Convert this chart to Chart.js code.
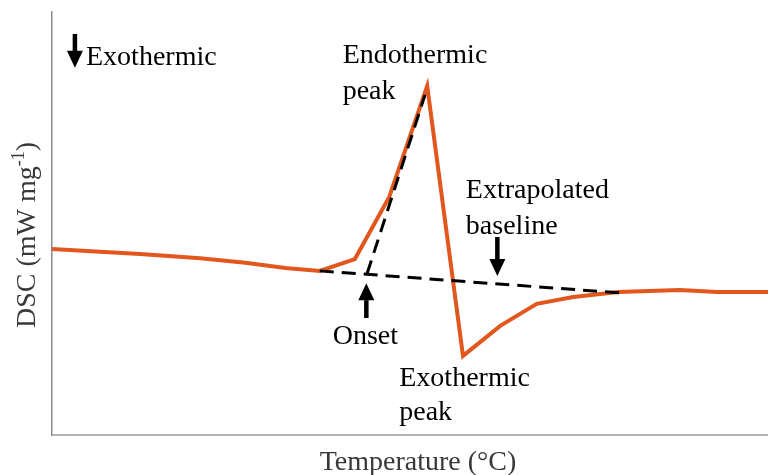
<!DOCTYPE html>
<html>
<head>
<meta charset="utf-8">
<script src="https://cdn.jsdelivr.net/npm/chart.js@4/dist/chart.umd.min.js"></script>
<style>
  html, body { margin: 0; padding: 0; background: #ffffff; }
  #wrap { width: 768px; height: 475px; }
</style>
</head>
<body>
<div id="wrap"><canvas id="dsc" width="768" height="475"></canvas></div>
<script>
// DSC trace (arbitrary units: temperature 0-100, heat flow 0-100)
const tempPts = [0, 6.7, 12.3, 20.7, 27.0, 32.6, 37.4, 42.3, 47.1, 52.4, 57.4, 62.6, 67.7, 72.8, 79.1, 87.7, 92.9, 100];
const dscVals = [44.0, 43.3, 42.8, 41.8, 40.7, 39.5, 38.8, 41.6, 56.3, 82.5, 18.7, 25.8, 31.0, 32.6, 33.8, 34.3, 33.8, 33.8];

// Extrapolated baseline and onset tangent
const baselineX = [37.4, 79.3];
const baselineY = [38.8, 33.6];
const tangentX = [44.0, 52.1];
const tangentY = [38.1, 80.4];

// Text annotations (left edge / baseline in data units)
const labelText = ['Exothermic', 'Endothermic', 'peak', 'Extrapolated', 'baseline', 'Onset', 'Exothermic', 'peak'];
const labelX = [4.75, 40.6, 40.6, 57.8, 57.8, 39.2, 48.5, 48.5];
const labelY = [87.5, 88.0, 79.5, 56.0, 47.6, 21.5, 11.5, 3.6];

// Arrows: x, tail y, tip y
const arrowX = [3.2, 43.9, 62.2];
const arrowFrom = [94.8, 27.9, 46.8];
const arrowTo = [86.8, 35.9, 37.6];

const xTitle = 'Temperature (°C)';
const yTitleMain = 'DSC (mW mg';
const yTitleSup = '-1';
const yTitleEnd = ')';

const toXY = (xs, ys) => xs.map((x, i) => ({ x: x, y: ys[i] }));
const SERIF = '"Liberation Serif", "Times New Roman", serif';

const annotations = {
  id: 'annotations',
  afterDatasetsDraw(chart) {
    const { ctx, scales: { x, y }, chartArea } = chart;
    ctx.save();

    // arrows
    ctx.fillStyle = '#000000';
    arrowX.forEach((ax, i) => {
      const px = x.getPixelForValue(ax);
      const y0 = y.getPixelForValue(arrowFrom[i]);
      const y1 = y.getPixelForValue(arrowTo[i]);
      const dir = Math.sign(y1 - y0);
      const headLen = 17, headHalf = 8, shaft = 4.5;
      const yBase = y1 - dir * headLen;
      ctx.fillRect(px - shaft / 2, Math.min(y0, yBase), shaft, Math.abs(yBase - y0) + 1);
      ctx.beginPath();
      ctx.moveTo(px - headHalf, yBase);
      ctx.lineTo(px + headHalf, yBase);
      ctx.lineTo(px, y1);
      ctx.closePath();
      ctx.fill();
    });

    // annotation text
    ctx.font = '28px ' + SERIF;
    ctx.textAlign = 'left';
    ctx.textBaseline = 'alphabetic';
    labelText.forEach((t, i) => {
      ctx.fillText(t, x.getPixelForValue(labelX[i]), y.getPixelForValue(labelY[i]));
    });

    // axis titles
    ctx.fillStyle = '#383838';
    ctx.textAlign = 'center';
    ctx.fillText(xTitle, (chartArea.left + chartArea.right) / 2 + 8, 470);

    ctx.translate(35, 235);
    ctx.rotate(-Math.PI / 2);
    ctx.textAlign = 'left';
    ctx.font = '28px ' + SERIF;
    const w1 = ctx.measureText(yTitleMain).width;
    ctx.font = '18px ' + SERIF;
    const w2 = ctx.measureText(yTitleSup).width;
    ctx.font = '28px ' + SERIF;
    const w3 = ctx.measureText(yTitleEnd).width;
    let cx = -(w1 + w2 + w3) / 2;
    ctx.fillText(yTitleMain, cx, 0);
    cx += w1;
    ctx.font = '18px ' + SERIF;
    ctx.fillText(yTitleSup, cx, -11);
    cx += w2;
    ctx.font = '28px ' + SERIF;
    ctx.fillText(yTitleEnd, cx, 0);

    ctx.restore();
  }
};

new Chart(document.getElementById('dsc'), {
  type: 'line',
  data: {
    datasets: [
      {
        data: toXY(baselineX, baselineY),
        borderColor: '#000000',
        borderWidth: 3,
        borderDash: [14, 8],
        borderCapStyle: 'butt',
        pointRadius: 0,
        order: 0
      },
      {
        data: toXY(tangentX, tangentY),
        borderColor: '#000000',
        borderWidth: 3,
        borderDash: [14, 8],
        borderCapStyle: 'butt',
        pointRadius: 0,
        order: 0
      },
      {
        data: toXY(tempPts, dscVals),
        borderColor: '#E1571D',
        borderWidth: 4,
        borderJoinStyle: 'miter',
        pointRadius: 0,
        tension: 0,
        order: 1
      }
    ]
  },
  options: {
    responsive: false,
    devicePixelRatio: 1,
    animation: false,
    clip: false,
    layout: { padding: { left: 52, top: 12, right: 0, bottom: 40 } },
    plugins: { legend: { display: false }, tooltip: { enabled: false } },
    scales: {
      x: {
        type: 'linear', min: 0, max: 100,
        ticks: { display: false, padding: 0 },
        grid: { display: false, drawTicks: false, tickLength: 0 },
        border: { display: true, color: '#b4b4b4', width: 2 }
      },
      y: {
        type: 'linear', min: 0, max: 100,
        ticks: { display: false, padding: 0 },
        grid: { display: false, drawTicks: false, tickLength: 0 },
        border: { display: true, color: '#8c8c8c', width: 1.5 }
      }
    }
  },
  plugins: [annotations]
});
</script>
</body>
</html>
